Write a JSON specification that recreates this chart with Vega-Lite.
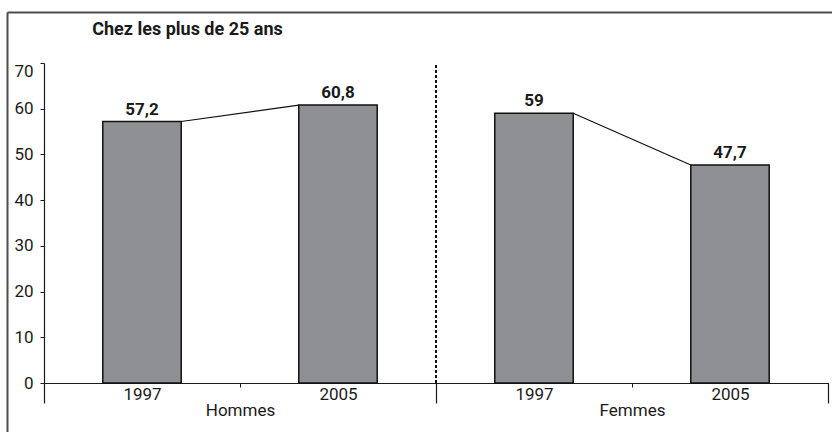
{
  "$schema": "https://vega.github.io/schema/vega-lite/v6.json",
  "width": 825,
  "height": 420,
  "autosize": {"type": "none"},
  "padding": {"left": 7, "top": 12, "right": 0, "bottom": 0},
  "background": "white",
  "title": {"text": "Chez les plus de 25 ans", "anchor": "start", "dx": 88, "offset": -30, "font": "Roboto", "fontSize": 18, "fontWeight": "bold", "color": "#1a1a1a"},
  "config": {
    "view": {"stroke": null},
    "font": "Roboto",
    "locale": {"number": {"decimal": ",", "thousands": " ", "grouping": [3], "currency": ["", " €"]}}
  },
  "datasets": {
    "barres": [
      {"sexe": "Hommes", "annee": "1997", "valeur": 57.2, "barre": "Hommes 1997"},
      {"sexe": "Hommes", "annee": "2005", "valeur": 60.8, "barre": "Hommes 2005"},
      {"sexe": "Femmes", "annee": "1997", "valeur": 59, "barre": "Femmes 1997"},
      {"sexe": "Femmes", "annee": "2005", "valeur": 47.7, "barre": "Femmes 2005"}
    ]
  },
  "layer": [
    {
      "layer": [
        {
          "data": {"name": "barres"},
          "encoding": {
            "x": {
              "field": "barre", "type": "nominal", "sort": null,
              "scale": {"domain": ["Hommes 1997", "Hommes 2005", "Femmes 1997", "Femmes 2005"], "range": [37, 821], "paddingInner": 0, "paddingOuter": 0},
              "axis": {"orient": "bottom", "offset": -49, "title": null, "labelAngle": 0, "labelExpr": "slice(datum.label, -4)", "tickBand": "extent", "tickSize": 4, "tickColor": "#1a1a1a", "domainColor": "#1a1a1a", "domainWidth": 1.2, "labelFontSize": 17, "labelColor": "#1a1a1a", "labelPadding": -1}
            },
            "y": {
              "field": "valeur", "type": "quantitative",
              "scale": {"domain": [0, 70], "range": [371, 51], "nice": false},
              "axis": {"orient": "left", "offset": -37, "title": null, "values": [0, 10, 20, 30, 40, 50, 60, 70], "grid": false, "tickSize": 4, "tickColor": "#1a1a1a", "domainColor": "#1a1a1a", "domainWidth": 1.2, "labelPadding": 7, "labelFontSize": 17, "labelColor": "#1a1a1a", "labelBaseline": {"condition": {"test": "datum.value === 70", "value": "top"}, "value": "middle"}}
            }
          },
          "layer": [
            {"mark": {"type": "bar", "width": {"band": 0.4}, "fill": "#8f9094", "stroke": "#111111", "strokeWidth": 1.5}},
            {"mark": {"type": "text", "dy": -7, "baseline": "alphabetic", "fontSize": 17, "fontWeight": "bold", "color": "#1a1a1a"}, "encoding": {"text": {"field": "valeur", "type": "quantitative", "format": ".1~f"}}}
          ]
        },
        {
          "data": {"name": "barres"},
          "transform": [{"pivot": "annee", "value": "valeur", "groupby": ["sexe"]}],
          "encoding": {
            "x": {
              "field": "sexe", "type": "nominal", "sort": null,
              "scale": {"domain": ["Hommes", "Femmes"], "range": [37, 821], "paddingInner": 0, "paddingOuter": 0},
              "axis": {"orient": "bottom", "offset": -49, "title": null, "labelAngle": 0, "domain": false, "tickBand": "extent", "tickSize": 20, "tickColor": "#1a1a1a", "tickWidth": 1.2, "labelFontSize": 17, "labelColor": "#1a1a1a", "labelPadding": -1}
            }
          },
          "layer": [
            {
              "mark": {"type": "rule", "xOffset": -58.8, "x2Offset": 58.8, "color": "#111111", "strokeWidth": 1.2},
              "encoding": {
                "x2": {"field": "sexe"},
                "y": {"field": "1997", "type": "quantitative", "title": null},
                "y2": {"field": "2005"}
              }
            },
            {
              "mark": {"type": "rule", "strokeDash": [3, 2], "strokeWidth": 2, "color": "#111111"},
              "encoding": {
                "x": {"datum": "Femmes", "bandPosition": 0},
                "y": {"datum": 0, "type": "quantitative", "title": null},
                "y2": {"datum": 70}
              }
            }
          ]
        }
      ],
      "resolve": {"scale": {"x": "independent"}, "axis": {"x": "independent"}}
    },
    {
      "data": {"values": [{"cadre": 0}]},
      "mark": {"type": "point", "opacity": 0},
      "encoding": {
        "x": {"field": "cadre", "type": "quantitative", "scale": {"domain": [0, 1], "range": [0, 825], "nice": false, "zero": false},
          "axis": {"orient": "top", "title": null, "ticks": false, "labels": false, "grid": false, "domain": true, "domainColor": "#4d4d4d", "domainWidth": 2}},
        "y": {"field": "cadre", "type": "quantitative", "scale": {"domain": [0, 1], "range": [0, 420], "nice": false, "zero": false},
          "axis": {"orient": "left", "title": null, "ticks": false, "labels": false, "grid": false, "domain": true, "domainColor": "#4d4d4d", "domainWidth": 2}}
      }
    }
  ],
  "resolve": {"scale": {"x": "independent", "y": "independent"}, "axis": {"x": "independent", "y": "independent"}}
}
